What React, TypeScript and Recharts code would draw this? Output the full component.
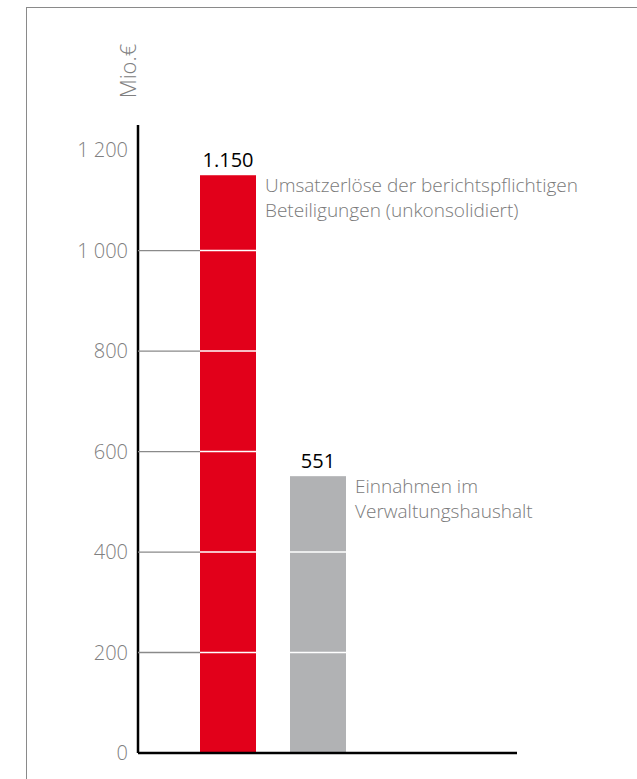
import { BarChart, Bar, XAxis, YAxis, Cell, LabelList, Label } from 'recharts'

// values as printed on the bars (Mio. €)
const categories = ['Umsatzerlöse', 'Einnahmen']
const values = [1150, 551]
const barColors = ['#e2001a', '#b1b2b4']
const notes = [
  ['Umsatzerlöse der berichtspflichtigen', 'Beteiligungen (unkonsolidiert)'],
  ['Einnahmen im', 'Verwaltungshaushalt'],
]
const yTicks = [0, 200, 400, 600, 800, 1000, 1200]
const gridTicks = [200, 400, 600, 800, 1000]

const FONT = '"Open Sans", "Noto Sans", sans-serif'

const data = categories.map((name, i) => ({ name, value: values[i] }))

const YTick = (props: any) => {
  const { x, y, payload } = props
  const label = payload.value >= 1000
    ? `${Math.floor(payload.value / 1000)} ${String(payload.value % 1000).padStart(3, '0')}`
    : String(payload.value)
  return (
    <g>
      {gridTicks.includes(payload.value) && (
        <line x1={x + 10} x2={x + 72} y1={y} y2={y} stroke="#8a8a8a" strokeWidth={1.3} />
      )}
      <text x={x} y={y} dy={7} textAnchor="end" fill="#808080" fontSize={20} fontWeight={300} fontFamily={FONT}>
        {label}
      </text>
    </g>
  )
}

// bar with white stripes where the grid lines cross it
const StripedBar = (props: any) => {
  const { x, y, width, height, fill, payload } = props
  const v = payload.value
  return (
    <g>
      <rect x={x} y={y} width={width} height={height} fill={fill} />
      {gridTicks.filter(t => t < v).map(t => {
        const ly = y + height - (t / v) * height
        return <line key={t} x1={x} x2={x + width} y1={ly} y2={ly} stroke="#fff" strokeWidth={1.5} />
      })}
    </g>
  )
}

const Note = (props: any) => {
  const { x, y, width, index } = props
  const lines = notes[index]
  return (
    <text x={x + width + 9} y={y + 17} fill="#7a7a7a" fontSize={19} fontWeight={300} fontFamily={FONT}>
      {lines.map((l, i) => (
        <tspan key={i} x={x + width + 9} dy={i === 0 ? 0 : 25}>{l}</tspan>
      ))}
    </text>
  )
}

const UnitLabel = (props: any) => {
  const { viewBox } = props
  const cx = viewBox.x + viewBox.width - 2
  const cy = viewBox.y - 54
  return (
    <text x={cx} y={cy} textAnchor="middle" fill="#808080" fontSize={22} fontWeight={300} fontFamily={FONT}
      transform={`rotate(-90, ${cx}, ${cy})`}>
      Mio.€
    </text>
  )
}

export default function App() {
  return (
    <div style={{ position: 'absolute', left: 0, top: 0, width: 637, height: 779, background: '#fff', overflow: 'hidden' }}>
      <div style={{
        position: 'absolute', left: 26, top: 7, width: 700, height: 900,
        borderLeft: '1px solid #8a8a8a', borderTop: '1px solid #8a8a8a',
      }} />
      <div style={{ position: 'absolute', left: 0, top: 0 }}>
        <BarChart
          width={637}
          height={779}
          data={data}
          margin={{ top: 125, right: 120, bottom: 25, left: 78 }}
          barSize={56}
          style={{ fontFamily: FONT }}
        >
          <XAxis
            dataKey="name"
            tick={false}
            tickLine={false}
            height={1}
            padding={{ left: 45, right: 154 }}
            axisLine={{ stroke: '#000', strokeWidth: 2.5 }}
          />
          <YAxis
            width={60}
            domain={[0, 1250]}
            ticks={yTicks}
            interval={0}
            tickSize={0}
            tickMargin={10}
            tickLine={false}
            tick={<YTick />}
            axisLine={{ stroke: '#000', strokeWidth: 2.5 }}
          >
            <Label content={<UnitLabel />} />
          </YAxis>
          <Bar dataKey="value" isAnimationActive={false} shape={<StripedBar />}>
            {data.map((d, i) => (
              <Cell key={d.name} fill={barColors[i]} />
            ))}
            <LabelList
              dataKey="value"
              position="top"
              offset={8}
              fill="#000"
              fontSize={20}
              fontWeight={500}
              fontFamily={FONT}
              formatter={(v: any) => Number(v).toLocaleString('de-DE')}
            />
            <LabelList dataKey="value" content={<Note />} />
          </Bar>
        </BarChart>
      </div>
    </div>
  )
}
